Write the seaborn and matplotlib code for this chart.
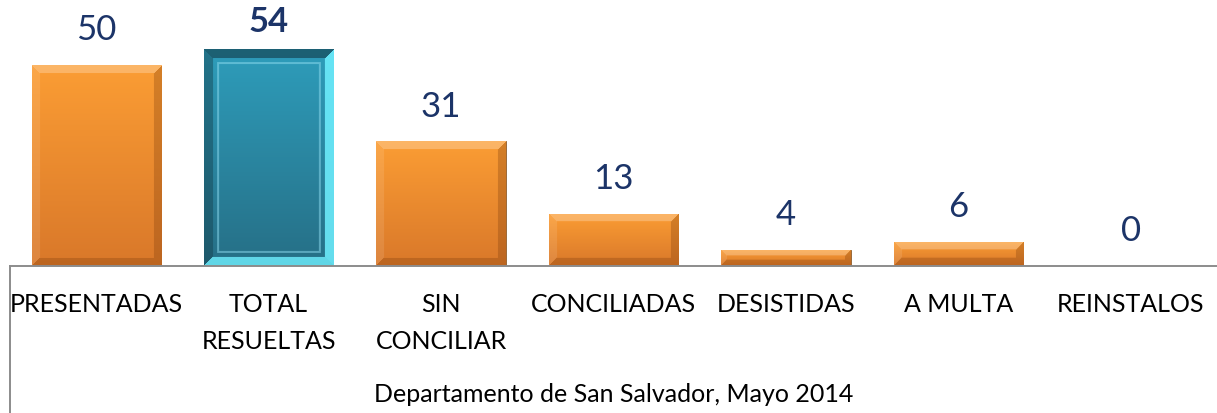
import numpy as np
import pandas as pd
import seaborn as sns
import matplotlib.pyplot as plt
from matplotlib.colors import to_rgb
from matplotlib.lines import Line2D
from matplotlib.transforms import blended_transform_factory

# datos
categorias = ['PRESENTADAS', 'TOTAL\nRESUELTAS', 'SIN\nCONCILIAR', 'CONCILIADAS',
              'DESISTIDAS', 'A MULTA', 'REINSTALOS']
valores = [50, 54, 31, 13, 4, 6, 0]
destacado = 'TOTAL\nRESUELTAS'
titulo_x = 'Departamento de San Salvador, Mayo 2014'

NARANJA = ('#fb9d34', '#d9782a')
TEAL = ('#2e9dbb', '#266f86')
AZUL_TXT = '#1c3468'


def bevel_image(w, h, top, bottom, sides, b, inner=None):
    ny, nx = max(int(h), 2), max(int(w), 2)
    t = np.linspace(0, 1, ny)[:, None, None]
    img = (1 - t) * np.array(to_rgb(top)) + t * np.array(to_rgb(bottom))
    img = np.broadcast_to(img, (ny, nx, 3)).copy()
    ys = np.arange(ny)[:, None] * np.ones((1, nx))
    xs = np.ones((ny, 1)) * np.arange(nx)[None, :]
    d = np.stack([ys, ny - 1 - ys, xs, nx - 1 - xs])
    side = d.argmin(axis=0)
    dmin = d.min(axis=0)
    for k, (col, a) in enumerate(sides):
        m = (side == k) & (dmin < b)
        img[m] = (1 - a) * img[m] + a * np.array(to_rgb(col))
    if inner is not None:
        col, off = inner
        m = (dmin >= b + off) & (dmin < b + off + 2)
        img[m] = 0.5 * img[m] + 0.5 * np.array(to_rgb(col))
    return img


df = pd.DataFrame({'categoria': categorias, 'valor': valores})
paleta = {c: (TEAL[0] if c == destacado else NARANJA[0]) for c in categorias}

fig = plt.figure(figsize=(12.17, 4.13), dpi=100)
ax = fig.add_axes([10 / 1217, 1 - 266 / 413, 1 - 10 / 1217, 266 / 413])
sns.barplot(data=df, x='categoria', y='valor', hue='categoria', palette=paleta,
            legend=False, width=0.75, ax=ax, saturation=1)
ax.set_xlim(-0.5, len(categorias) - 0.5)
ax.set_ylim(0, 66.2)

# sombreado tipo bisel
for patch, cat, v in zip(ax.patches, categorias, valores):
    if v <= 0:
        continue
    x0, y0 = patch.get_x(), patch.get_y()
    x1, y1 = x0 + patch.get_width(), y0 + patch.get_height()
    (px0, py0), (px1, py1) = ax.transData.transform([(x0, y0), (x1, y1)])
    w, h = px1 - px0, py1 - py0
    if cat == destacado:
        b = 9
        img = bevel_image(w, h, TEAL[0], TEAL[1],
                          [('#0f2f3a', 0.55), ('#6ff0ff', 0.8),
                           ('#143f4c', 0.45), ('#6ff0ff', 0.85)], b,
                          inner=('#8fdcf0', 4))
    else:
        b = min(8, h / 3)
        img = bevel_image(w, h, NARANJA[0], NARANJA[1],
                          [('#ffffff', 0.25), ('#7a3a0a', 0.3),
                           ('#ffffff', 0.1), ('#7a3a0a', 0.3)], b)
    im = ax.imshow(img, extent=[x0, x1, y0, y1], aspect='auto', zorder=2,
                   interpolation='bilinear')
    im.set_clip_path(patch)
    patch.set_edgecolor('#8a5a2a' if cat != destacado else '#1a4552')
    patch.set_linewidth(0.6)

ax.set_aspect('auto')
ax.set_xlim(-0.5, len(categorias) - 0.5)
ax.set_ylim(0, 66.2)

# etiquetas de valor
for i, v in enumerate(valores):
    bold = categorias[i] == destacado
    ax.annotate(str(v), (i, v), xytext=(0, 8 if bold else 13.5),
                textcoords='offset points',
                ha='center', va='bottom', fontsize=25, color=AZUL_TXT,
                fontweight='bold' if bold else 'normal', family='Lato')

sns.despine(ax=ax, left=True, top=True, right=True)
ax.spines['bottom'].set_color('#8c8c8c')
ax.spines['bottom'].set_linewidth(1.4)
ax.set_yticks([])
ax.set_ylabel('')
ax.set_xlabel('')
ax.tick_params(axis='x', length=0, labelbottom=False)

# etiquetas de categoria
trans = blended_transform_factory(ax.transData, ax.transAxes)
for i, cat in enumerate(categorias):
    ax.text(i, -27 / 266, cat, transform=trans, ha='center', va='top',
            fontsize=18, family='Lato', linespacing=1.75, color='black')
ax.text(0.5, -129 / 266, titulo_x, transform=ax.transAxes, ha='center',
        va='center', fontsize=18, family='Lato', color='black')
ax.patch.set_alpha(0)

# linea vertical del area del grafico
fig.add_artist(Line2D([10 / 1217, 10 / 1217], [0, 1 - 266 / 413],
                      color='#8c8c8c', linewidth=1.4, transform=fig.transFigure))

fig.savefig('out.png', dpi=100)
